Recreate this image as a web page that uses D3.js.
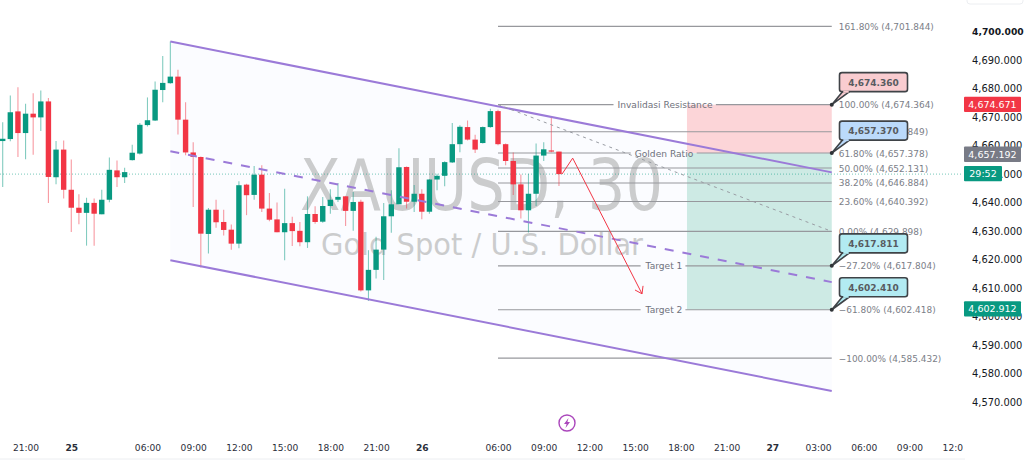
<!DOCTYPE html>
<html><head><meta charset="utf-8">
<script src="https://cdnjs.cloudflare.com/ajax/libs/d3/7.8.5/d3.min.js"></script>
<style>html,body{margin:0;padding:0;background:#fff;overflow:hidden}svg{display:block}text{font-family:"DejaVu Sans",sans-serif}</style>
</head><body><svg id="c" width="1024" height="474"></svg>
<script>
const opens=[4661.6,4662.3,4672,4664.4,4671.2,4669.9,4675.5,4648.9,4658.6,4644.5,4638.2,4636.4,4639.9,4635.9,4641,4651.3,4648.9,4654.9,4657.2,4667.2,4668.8,4679.5,4681.9,4684.2,4669.1,4657.6,4656,4629,4637.5,4633.2,4630.5,4625.6,4646.3,4642.7,4649.8,4637.9,4634.1,4629.6,4632.8,4630.1,4626.1,4636,4633.3,4638.8,4641,4642.2,4637.1,4640.3,4609.2,4616.4,4623.5,4635.2,4639.4,4652.5,4640.3,4643.1,4636.8,4648.1,4649.4,4654.1,4660.5,4666.5,4662.1,4660.9,4666.5,4672.1,4660.5,4654.6,4646.4,4637.3,4643.1,4656.5,4658.3,4657.9];
const highs=[4668.2,4677.6,4680.5,4674.7,4678.4,4679.3,4676.7,4661.6,4661.8,4655.1,4642.9,4641.7,4641.4,4644.5,4655.8,4654.8,4652.2,4660.3,4667.9,4676.9,4682.5,4691.4,4696.5,4686.6,4675.2,4661.2,4656.2,4638.1,4641,4637.5,4632.3,4647.5,4646.6,4652.8,4653.1,4643.4,4640,4644.9,4635,4633.2,4642.2,4638.7,4642,4644.7,4646.9,4642.2,4643.7,4641,4623.3,4628,4639.9,4644.3,4659.1,4652.7,4646.2,4644.7,4648.2,4650.1,4654.5,4667.9,4667.1,4668.8,4663.8,4666.7,4672.9,4672.6,4660.7,4657.6,4649.9,4650.1,4660.7,4661.2,4670.2,4657.8];
const lows=[4645.5,4661.5,4656,4655.2,4656.8,4665.1,4639.9,4646.4,4641.4,4629.7,4632.4,4624.9,4624.9,4635.9,4640.1,4645.5,4646.9,4654.8,4656.9,4666.7,4668.6,4675.2,4681.7,4663.9,4656.6,4638.5,4617.2,4622.1,4631.2,4628.5,4623.5,4624,4635.6,4641,4636.7,4633.5,4629.6,4619.8,4624.8,4624.7,4624.1,4632.6,4632.9,4636.1,4640.2,4631.8,4630.1,4608.8,4605.5,4613.4,4612.8,4629.4,4639.4,4637.9,4636.7,4634.2,4636.1,4644.3,4645.7,4653.9,4657.7,4661.8,4657.4,4660.7,4666.3,4660.1,4653.1,4642.7,4634.4,4629.5,4638.8,4654.6,4657.7,4645.8];
const closes=[4662.4,4671.7,4664.4,4671.2,4669.9,4675.5,4649,4658.6,4644.5,4638.2,4636.4,4639.9,4636.1,4641,4651.5,4648.9,4650.7,4657.5,4667.3,4668.9,4679.6,4682,4684.2,4669.1,4657.6,4656,4629.1,4637.5,4633.1,4630.4,4625.6,4646.1,4642.6,4649.8,4637.9,4634,4629.6,4632.8,4630,4626.1,4636,4633.2,4638.8,4641,4642,4637.1,4640.2,4609.2,4616.4,4623.5,4635.2,4639.4,4652.4,4640.3,4643.1,4636.8,4648.1,4649.4,4654.2,4660.5,4666.6,4662.1,4658.6,4666.5,4672.1,4660.5,4654.6,4646.4,4637.3,4643.1,4656.5,4658.7,4657.9,4650];
const priceTicks=[4700,4690,4680,4670,4660,4650,4640,4630,4620,4610,4600,4590,4580,4570];
const timeBars=[3,9,19,25,31,37,43,49,55,65,71,77,83,89,95,101,107,113,119,125];
const timeLabels=["21:00","25","06:00","09:00","12:00","15:00","18:00","21:00","26","06:00","09:00","12:00","15:00","18:00","21:00","27","03:00","06:00","09:00","12:00"];
const fibLevels=[161.8,100,78.6,61.8,50,38.2,23.6,0,-27.2,-61.8,-100];
const fibPrices=[4701.844,4674.364,4664.849,4657.378,4652.131,4646.884,4640.392,4629.898,4617.804,4602.418,4585.432];
const fibNotes=["","Invalidasi Resistance","","Golden Ratio","","","","","Target 1","Target 2",""];
const noteBars=[86.9,0,0,86.9];
const channelBars=[22,108.8];
const channelTop=[4696.5,4650.6];
const channelMid=[4658,4612.1];
const channelLow=[4619.8,4573.9];
const trendBars=[65,108.8];
const trendPrices=[4674.4,4629.9];
const arrowBars=[73.4,74.8,83.9];
const arrowPrices=[4650,4655.6,4608];
const zoneBars=[89.8,108.8];
const stopZone=[4674.36,4657.37];
const targetZone=[4657.37,4602.41];
const calloutPrices=[4674.36,4657.37,4617.811,4602.41];
const calloutFills=["#f9ccd0","#bbdafb","#b2ebf2","#b2ebf2"];
const lastPrice=4650;
const axisTags=[{t:"4,674.671",p:4674.671,c:"#f23645",w:57},{t:"4,657.192",p:4657.192,c:"#787b86",w:57},{t:"29:52",p:4650,c:"#089981",w:38},{t:"4,602.912",p:4602.912,c:"#089981",w:57}];
const fmt=d3.format(",.3f");

const svg=d3.select("#c");
const x=d3.scaleLinear().domain([0,125]).range([2.7,955.2]);
const y=d3.scaleLinear().domain([4700,4570]).range([31.6,402.1]);
const G="#089981",R="#f23645";
const defs=svg.append("defs");
defs.append("clipPath").attr("id","pane").append("rect").attr("width",963).attr("height",474);

const pane=svg.append("g").attr("clip-path","url(#pane)");
const poly=d3.line();
// channel tint
pane.append("path").attr("fill","#fbfcff").attr("d",poly([[x(channelBars[0]),y(channelTop[0])],[x(channelBars[1]),y(channelTop[1])],[x(channelBars[1]),y(channelLow[1])],[x(channelBars[0]),y(channelLow[0])]])+"Z");
// watermark
pane.append("text").attr("x",300).attr("y",210).attr("textLength",363).attr("lengthAdjust","spacingAndGlyphs").attr("font-size",71).attr("fill","#cbcccd").text("XAUUSD, 30");
pane.append("text").attr("x",321).attr("y",255).attr("textLength",322).attr("lengthAdjust","spacingAndGlyphs").attr("font-size",31).attr("fill","#cbcccd").text("Gold Spot / U.S. Dollar");
// zones
pane.append("rect").attr("x",x(zoneBars[0])).attr("width",x(zoneBars[1])-x(zoneBars[0])).attr("y",y(stopZone[0])).attr("height",y(stopZone[1])-y(stopZone[0])).attr("fill","#fcd5d8");
pane.append("rect").attr("x",x(zoneBars[0])).attr("width",x(zoneBars[1])-x(zoneBars[0])).attr("y",y(targetZone[0])).attr("height",y(targetZone[1])-y(targetZone[0])).attr("fill","#cdeae4");
// price line
pane.append("line").attr("x1",0).attr("x2",963).attr("y1",y(lastPrice)).attr("y2",y(lastPrice)).attr("stroke",G).attr("stroke-opacity",.55).attr("stroke-dasharray","1 2");
// fib lines (drawn after measuring the notes so they break around them)
const fx1=x(trendBars[0]),fx2=x(trendBars[1]);
const fibG=pane.append("g");
// candles
const idx=d3.range(opens.length);
const cg=pane.append("g");
cg.selectAll("line").data(idx).join("line").attr("x1",i=>x(i)).attr("x2",i=>x(i)).attr("y1",i=>y(highs[i])).attr("y2",i=>y(lows[i])).attr("stroke",i=>closes[i]>=opens[i]?G:R).attr("stroke-opacity",.5).attr("stroke-width",1.1);
cg.selectAll("rect").data(idx).join("rect").attr("x",i=>x(i)-2.7).attr("width",5.4).attr("y",i=>y(Math.max(opens[i],closes[i]))).attr("height",i=>Math.max(1,Math.abs(y(opens[i])-y(closes[i])))).attr("fill",i=>closes[i]>=opens[i]?G:R);
// channel
const seg=(p)=>[[x(channelBars[0]),y(p[0])],[x(channelBars[1]),y(p[1])]];
[channelTop,channelLow].forEach(p=>pane.append("path").attr("d",poly(seg(p))).attr("stroke","#9b7ad8").attr("stroke-width",2).attr("fill","none"));
pane.append("path").attr("d",poly(seg(channelMid))).attr("stroke","#9b7ad8").attr("stroke-width",2).attr("stroke-dasharray","9 9").attr("fill","none");
// trend dashed
pane.append("path").attr("d",poly(trendBars.map((b,i)=>[x(b),y(trendPrices[i])]))).attr("stroke","#999ca3").attr("stroke-dasharray","3 4").attr("fill","none");
// arrow
const ap=arrowBars.map((b,i)=>[x(b),y(arrowPrices[i])]);
pane.append("path").attr("d",poly(ap)).attr("stroke",R).attr("stroke-width",1).attr("fill","none");
const e=ap[2],s=ap[1],ang=Math.atan2(e[1]-s[1],e[0]-s[0]);
const hd=a=>[e[0]-8*Math.cos(ang+a),e[1]-8*Math.sin(ang+a)];
pane.append("path").attr("d",poly([hd(.6),e,hd(-.6)])).attr("stroke",R).attr("fill","none");
// notes and fib segments
fibPrices.forEach((p,i)=>{
 const n=fibNotes[i]; let segs=[[fx1,fx2]];
 if(n){
  const t=pane.append("text").attr("x",n[0]=="I"?665:(n[0]=="G"?664:664)).attr("y",y(p)+3.5).attr("text-anchor","middle").attr("font-size",9.1).attr("fill","#6f727c").text(n);
  const b=t.node().getBBox();
  segs=[[fx1,b.x-4],[b.x+b.width+3,fx2]];
 }
 segs.forEach(q=>fibG.append("line").attr("x1",q[0]).attr("x2",q[1]).attr("y1",y(p)).attr("y2",y(p)).attr("stroke","#97989d").attr("stroke-width",1.1));
});
// fib labels
pane.selectAll("text.fl").data(fibPrices).join("text").attr("class","fl").attr("x",fx2+7).attr("y",d=>y(d)+3.5).attr("font-size",8.95).attr("fill","#7b7e87")
 .text((d,i)=>(fibLevels[i]<0?"\u2212"+Math.abs(fibLevels[i]).toFixed(2):fibLevels[i].toFixed(2))+"% ("+fmt(d)+")");
// callouts
calloutPrices.forEach((p,i)=>{
 const py=y(p),bx=839.5,bw=68,bh=19,by=py-32;
 const g=pane.append("g");
 g.append("path").attr("d",`M${bx+3},${by+bh} L${fx2},${py} L${bx+10},${by+bh}`).attr("fill",calloutFills[i]).attr("stroke","#3f4347").attr("stroke-width",1.6);
 g.append("rect").attr("x",bx).attr("y",by).attr("width",bw).attr("height",bh).attr("rx",2.5).attr("fill",calloutFills[i]).attr("stroke","#3f4347").attr("stroke-width",1.6);
 g.append("path").attr("d",`M${bx+3.8},${by+bh} H${bx+9.2}`).attr("stroke",calloutFills[i]).attr("stroke-width",2);
 g.append("circle").attr("cx",fx2).attr("cy",py).attr("r",2).attr("fill","#2f3337");
 g.append("text").attr("x",bx+bw/2).attr("y",by+13.2).attr("text-anchor","middle").attr("font-size",9).attr("font-weight","bold").attr("fill","#585b60").text(fmt(p));
});
// time axis
const ax=pane.append("g").attr("transform","translate(0,442)").call(d3.axisBottom(x).tickValues(timeBars).tickSize(0).tickPadding(3).tickFormat((d,i)=>timeLabels[i]));
ax.select(".domain").remove();
ax.selectAll("text").attr("font-size",9.1).attr("font-family",'"DejaVu Sans",sans-serif').attr("fill","#2a2e39").attr("font-weight",(d,i)=>/:/.test(timeLabels[i])?"normal":"bold");
// price axis
const ay=svg.append("g").attr("transform","translate(972,0)").call(d3.axisRight(y).tickValues(priceTicks).tickSize(0).tickPadding(0).tickFormat(fmt));
ay.select(".domain").remove();
ay.selectAll("text").attr("font-size",d=>d==4700?9.2:9.9).attr("font-family",'"DejaVu Sans",sans-serif').attr("fill","#131722").attr("font-weight",d=>d==4700?"bold":"normal");
// axis tags
axisTags.forEach(a=>{const cy=y(a.p)+(a.w>40?0.7:-0.4);
 svg.append("rect").attr("x",964).attr("y",cy-7.8).attr("width",a.w).attr("height",15.4).attr("fill",a.c).attr("rx",1);
 svg.append("text").attr("x",964+a.w/2).attr("y",cy+3.4).attr("text-anchor","middle").attr("font-size",9.5).attr("fill","#fff").text(a.t);
});
// misc chrome
svg.append("line").attr("x1",0).attr("x2",965).attr("y1",459).attr("y2",459).attr("stroke","#eceef1");
svg.append("rect").attr("x",967).attr("y",-6).attr("width",56).attr("height",10).attr("rx",3).attr("fill","none").attr("stroke","#eceef1");
const ic=svg.append("g").attr("transform","translate(567,423)");
ic.append("circle").attr("r",8).attr("fill","#fff").attr("stroke","#ab47bc").attr("stroke-width",1.4);
ic.append("path").attr("d","M1.5,-5 L-3,1 L-0.4,1 L-1.5,5 L3,-1 L0.4,-1 Z").attr("fill","#ab47bc");
</script></body></html>
